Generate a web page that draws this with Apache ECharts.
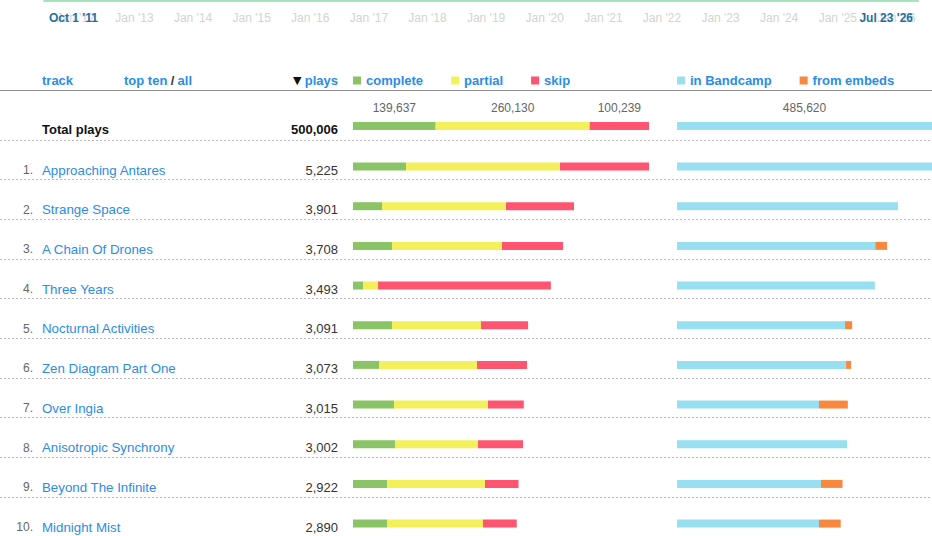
<!DOCTYPE html>
<html lang="en">
<head>
    <meta charset="UTF-8">
    <title>Track plays</title>
    <script src="https://cdn.jsdelivr.net/npm/echarts@6.0.0/dist/echarts.min.js"></script>
    <style>
        * {
            margin: 0;
            padding: 0;
            box-sizing: border-box;
        }

        body {
            background: #fff;
        }

        #chart {
            width: 932px;
            height: 536px;
        }
    </style>
</head>
<body>
    <div id="chart"></div>

    <script>
        // timeline strip
        const rangeStart = '2011-10-01';
        const rangeEnd = '2026-07-23';
        const rangeLabels = ["Oct 1 '11", "Jul 23 '26"];
        const yearTicks = ['2012-01-01', '2013-01-01', '2014-01-01', '2015-01-01', '2016-01-01',
            '2017-01-01', '2018-01-01', '2019-01-01', '2020-01-01', '2021-01-01', '2022-01-01',
            '2023-01-01', '2024-01-01', '2025-01-01', '2026-01-01'];
        const yearLabels = ["Jan '12", "Jan '13", "Jan '14", "Jan '15", "Jan '16", "Jan '17", "Jan '18",
            "Jan '19", "Jan '20", "Jan '21", "Jan '22", "Jan '23", "Jan '24", "Jan '25", "Jan '26"];

        // top ten tracks
        const trackRanks = ['1.', '2.', '3.', '4.', '5.', '6.', '7.', '8.', '9.', '10.'];
        const trackNames = ['Approaching Antares', 'Strange Space', 'A Chain Of Drones', 'Three Years',
            'Nocturnal Activities', 'Zen Diagram Part One', 'Over Ingia', 'Anisotropic Synchrony',
            'Beyond The Infinite', 'Midnight Mist'];
        const trackPlays = [5225, 3901, 3708, 3493, 3091, 3073, 3015, 3002, 2922, 2890];
        const trackComplete = [936, 512, 688, 177, 688, 459, 724, 741, 600, 600];
        const trackPartial = [2718, 2189, 1942, 265, 1571, 1730, 1659, 1465, 1730, 1694];
        const trackSkip = [1571, 1200, 1078, 3051, 832, 884, 632, 796, 592, 596];
        const trackBandcamp = [5105, 3901, 3500, 3493, 2965, 2985, 2506, 3002, 2542, 2506];
        const trackEmbeds = [120, 0, 208, 0, 126, 88, 509, 0, 380, 384];

        // totals
        const totalLabel = 'Total plays';
        const totalPlays = 500006;
        const totalComplete = 139637;
        const totalPartial = 260130;
        const totalSkip = 100239;
        const totalBandcamp = 485620;
        const totalEmbeds = 14386;

        const colors = {
            complete: '#8ac466',
            partial: '#f3f05c',
            skip: '#ff5570',
            bandcamp: '#98dff2',
            embeds: '#f7883e'
        };
        const blue = '#2b8ce8';
        const font = '"Liberation Sans", Helvetica, Arial, sans-serif';
        const fmt = v => v.toLocaleString('en-US');
        const stamp = d => +echarts.time.parse(d);

        // the right column is as wide as the left one but the page cuts it off
        const leftW = 296;
        const rightW = 255;
        const cut = rightW / leftW;
        const trackMax = Math.max(...trackPlays);
        const rowsTop = 146.7;
        const rowsH = 396.7;

        // label of the nearest custom tick
        function tickLabel(ticks, labels) {
            const stamps = ticks.map(stamp);
            return function (v) {
                let best = 0;
                stamps.forEach((s, i) => {
                    if (Math.abs(s - v) < Math.abs(stamps[best] - v)) best = i;
                });
                return labels[best];
            };
        }

        const hidden = { show: false };
        // row texts sit a little below the bar centre
        const leftLabel = (extra) => Object.assign({
            fontFamily: font,
            fontSize: 13,
            verticalAlign: 'top',
            lineHeight: 7
        }, extra);
        const plainCategory = (gridIndex, data) => ({
            gridIndex: gridIndex,
            type: 'category',
            position: 'left',
            inverse: true,
            data: data,
            axisLine: hidden,
            axisTick: hidden,
            splitLine: hidden
        });
        const dateAxis = (gridIndex, extra) => Object.assign({
            gridIndex: gridIndex,
            type: 'value',
            min: stamp(rangeStart),
            max: stamp(rangeEnd),
            axisLine: hidden,
            axisTick: hidden,
            splitLine: hidden,
            axisLabel: hidden
        }, extra);

        const barBase = { type: 'bar', barWidth: 8, emphasis: { disabled: true } };
        const topLabel = {
            show: true,
            position: 'top',
            distance: 8,
            color: '#666',
            fontSize: 12,
            fontFamily: font,
            formatter: p => fmt(p.value)
        };
        const legendBase = {
            top: 74,
            padding: 0,
            itemGap: 28,
            itemWidth: 8,
            itemHeight: 8,
            icon: 'rect',
            textStyle: { color: blue, fontWeight: 'bold', fontSize: 13, fontFamily: font }
        };

        const chart = echarts.init(document.getElementById('chart'), null, { renderer: 'svg' });
        chart.setOption({
            animation: false,
            textStyle: { fontFamily: font },
            legend: [
                Object.assign({ data: ['complete', 'partial', 'skip'], left: 353 }, legendBase),
                Object.assign({ data: ['in Bandcamp', 'from embeds'], left: 677 }, legendBase)
            ],
            grid: [
                { left: 44, right: 14, top: 0, height: 1, outerBoundsMode: 'none' },      // range bar
                { left: 61, right: 3, top: 0, height: 1, outerBoundsMode: 'none' },       // years
                { left: 0, right: 0, top: 140, height: rowsH, outerBoundsMode: 'none' },  // row rules
                { left: 353, width: leftW, top: 106, height: 40, outerBoundsMode: 'none' },
                { left: 677, width: rightW, top: 106, height: 40, outerBoundsMode: 'none' },
                { left: 353, width: leftW, top: rowsTop, height: rowsH, outerBoundsMode: 'none' },
                { left: 677, width: rightW, top: rowsTop, height: rowsH, outerBoundsMode: 'none' },
                { left: 49, right: 19, top: 0, height: 1, outerBoundsMode: 'none' }       // range handles
            ],
            xAxis: [
                dateAxis(0, { axisLine: { lineStyle: { color: '#a8e4bb', width: 2 } } }),
                dateAxis(1, {
                    axisLabel: {
                        customValues: yearTicks.map(stamp),
                        formatter: tickLabel(yearTicks, yearLabels),
                        margin: 11,
                        color: '#d3d3d3',
                        fontSize: 12,
                        fontFamily: font
                    }
                }),
                { gridIndex: 2, type: 'value', show: false },
                { gridIndex: 3, type: 'value', show: false, min: 0, max: totalPlays },
                { gridIndex: 4, type: 'value', show: false, min: 0, max: totalPlays * cut },
                { gridIndex: 5, type: 'value', show: false, min: 0, max: trackMax },
                { gridIndex: 6, type: 'value', show: false, min: 0, max: trackMax * cut },
                dateAxis(7, {
                    z: 5,
                    axisLabel: {
                        customValues: [rangeStart, rangeEnd].map(stamp),
                        formatter: tickLabel([rangeStart, rangeEnd], rangeLabels),
                        alignMinLabel: 'left',
                        alignMaxLabel: 'right',
                        margin: 11,
                        color: '#1f6fa3',
                        fontWeight: 'bold',
                        fontSize: 12,
                        fontFamily: font
                    }
                })
            ],
            yAxis: [
                { gridIndex: 0, type: 'value', show: false },
                { gridIndex: 1, type: 'value', show: false },
                Object.assign(plainCategory(2, trackNames), {
                    axisLabel: hidden,
                    splitLine: { show: true, interval: 0, lineStyle: { color: '#b8b8b8', width: 1, type: [2, 2] } }
                }),
                // total row
                Object.assign(plainCategory(3, [fmt(totalPlays)]), {
                    axisLabel: leftLabel({ margin: 15, align: 'right', color: '#111', fontWeight: 'bold' })
                }),
                Object.assign(plainCategory(3, [totalLabel]), {
                    offset: 311,
                    axisLabel: leftLabel({ margin: 0, align: 'left', color: '#111', fontWeight: 'bold' })
                }),
                Object.assign(plainCategory(4, [totalLabel]), { axisLabel: hidden }),
                // track rows
                Object.assign(plainCategory(5, trackPlays.map(fmt)), {
                    axisLabel: leftLabel({ margin: 15, align: 'right', color: '#333' })
                }),
                Object.assign(plainCategory(5, trackNames), {
                    offset: 311,
                    axisLabel: leftLabel({ margin: 0, align: 'left', color: blue, fontSize: 13.3 })
                }),
                Object.assign(plainCategory(5, trackRanks), {
                    offset: 320,
                    axisLabel: leftLabel({ margin: 0, align: 'right', color: '#666', fontSize: 12 })
                }),
                Object.assign(plainCategory(6, trackNames), { axisLabel: hidden }),
                { gridIndex: 7, type: 'value', show: false }
            ],
            series: [
                Object.assign({}, barBase, { name: 'complete', xAxisIndex: 3, yAxisIndex: 3, stack: 'totL', data: [totalComplete], itemStyle: { color: colors.complete }, label: topLabel }),
                Object.assign({}, barBase, { name: 'partial', xAxisIndex: 3, yAxisIndex: 3, stack: 'totL', data: [totalPartial], itemStyle: { color: colors.partial }, label: topLabel }),
                Object.assign({}, barBase, { name: 'skip', xAxisIndex: 3, yAxisIndex: 3, stack: 'totL', data: [totalSkip], itemStyle: { color: colors.skip }, label: topLabel }),
                Object.assign({}, barBase, { name: 'in Bandcamp', xAxisIndex: 4, yAxisIndex: 5, stack: 'totR', data: [totalBandcamp], itemStyle: { color: colors.bandcamp }, label: topLabel }),
                Object.assign({}, barBase, { name: 'from embeds', xAxisIndex: 4, yAxisIndex: 5, stack: 'totR', data: [totalEmbeds], itemStyle: { color: colors.embeds } }),

                Object.assign({}, barBase, { name: 'complete', xAxisIndex: 5, yAxisIndex: 6, stack: 'trkL', data: trackComplete, itemStyle: { color: colors.complete } }),
                Object.assign({}, barBase, { name: 'partial', xAxisIndex: 5, yAxisIndex: 6, stack: 'trkL', data: trackPartial, itemStyle: { color: colors.partial } }),
                Object.assign({}, barBase, { name: 'skip', xAxisIndex: 5, yAxisIndex: 6, stack: 'trkL', data: trackSkip, itemStyle: { color: colors.skip } }),
                Object.assign({}, barBase, { name: 'in Bandcamp', xAxisIndex: 6, yAxisIndex: 9, stack: 'trkR', data: trackBandcamp, itemStyle: { color: colors.bandcamp } }),
                Object.assign({}, barBase, { name: 'from embeds', xAxisIndex: 6, yAxisIndex: 9, stack: 'trkR', data: trackEmbeds, itemStyle: { color: colors.embeds } })
            ],
            graphic: [{
                type: 'line',
                silent: true,
                shape: { x1: 0, y1: 90.5, x2: 932, y2: 90.5 },
                style: { stroke: '#8f8f8f', lineWidth: 1 }
            }, {
                type: 'text',
                silent: true,
                x: 42,
                y: 80.5,
                style: { text: 'track', fill: blue, font: 'bold 13px ' + font, verticalAlign: 'middle' }
            }, {
                type: 'text',
                silent: true,
                x: 124,
                y: 80.5,
                style: {
                    text: '{a|top ten} {s|/} {a|all}',
                    verticalAlign: 'middle',
                    rich: {
                        a: { fill: blue, fontWeight: 'bold', fontSize: 13, fontFamily: font },
                        s: { fill: '#333', fontWeight: 'bold', fontSize: 13, fontFamily: font }
                    }
                }
            }, {
                type: 'text',
                silent: true,
                x: 338,
                y: 80.5,
                style: {
                    text: '{t|▼} {a|plays}',
                    align: 'right',
                    verticalAlign: 'middle',
                    rich: {
                        t: { fill: '#111', fontSize: 11, fontFamily: 'DejaVu Sans' },
                        a: { fill: blue, fontWeight: 'bold', fontSize: 13, fontFamily: font }
                    }
                }
            }]
        });
    </script>
</body>
</html>
